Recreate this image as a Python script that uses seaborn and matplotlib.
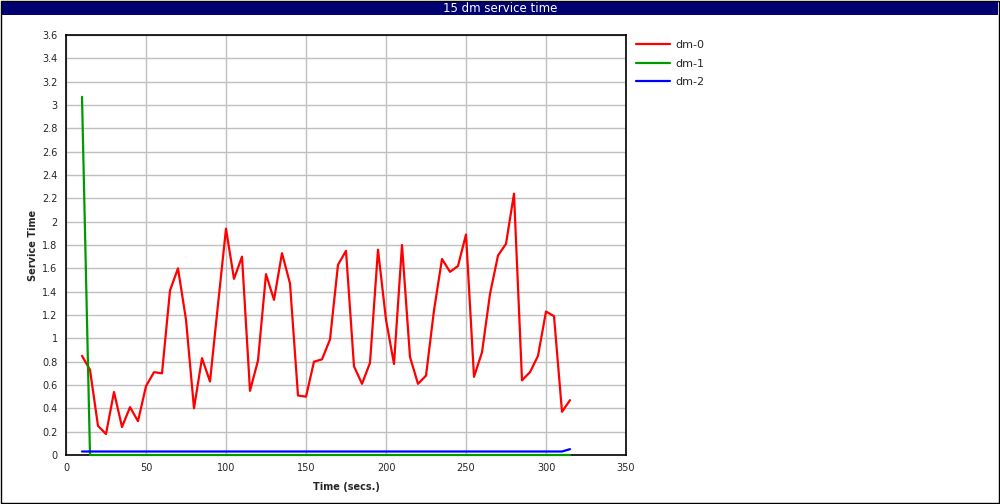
import numpy as np
import pandas as pd
import matplotlib
matplotlib.use("Agg")
import matplotlib.pyplot as plt
from matplotlib.patches import Rectangle
from matplotlib.ticker import FuncFormatter, MultipleLocator
import seaborn as sns

# data
time_secs = [10, 15, 20, 25, 30, 35, 40, 45, 50, 55, 60, 65, 70, 75, 80, 85,
             90, 95, 100, 105, 110, 115, 120, 125, 130, 135, 140, 145, 150,
             155, 160, 165, 170, 175, 180, 185, 190, 195, 200, 205, 210, 215,
             220, 225, 230, 235, 240, 245, 250, 255, 260, 265, 270, 275, 280,
             285, 290, 295, 300, 305, 310, 315]

dm0 = [0.85, 0.73, 0.25, 0.18, 0.54, 0.24, 0.41, 0.29, 0.59, 0.71, 0.70, 1.41,
       1.60, 1.16, 0.40, 0.83, 0.63, 1.29, 1.94, 1.51, 1.70, 0.55, 0.81, 1.55,
       1.33, 1.73, 1.47, 0.51, 0.50, 0.80, 0.82, 0.99, 1.63, 1.75, 0.76, 0.61,
       0.79, 1.76, 1.16, 0.78, 1.80, 0.84, 0.61, 0.68, 1.24, 1.68, 1.57, 1.62,
       1.89, 0.67, 0.88, 1.38, 1.71, 1.81, 2.24, 0.64, 0.71, 0.85, 1.23, 1.19,
       0.37, 0.47]

dm1 = [3.07, 0.0, 0.0, 0.0, 0.0, 0.0, 0.0, 0.0, 0.0, 0.0, 0.0, 0.0, 0.0, 0.0,
       0.0, 0.0, 0.0, 0.0, 0.0, 0.0, 0.0, 0.0, 0.0, 0.0, 0.0, 0.0, 0.0, 0.0,
       0.0, 0.0, 0.0, 0.0, 0.0, 0.0, 0.0, 0.0, 0.0, 0.0, 0.0, 0.0, 0.0, 0.0,
       0.0, 0.0, 0.0, 0.0, 0.0, 0.0, 0.0, 0.0, 0.0, 0.0, 0.0, 0.0, 0.0, 0.0,
       0.0, 0.0, 0.0, 0.0, 0.0, 0.0]

dm2 = [0.03, 0.03, 0.03, 0.03, 0.03, 0.03, 0.03, 0.03, 0.03, 0.03, 0.03, 0.03,
       0.03, 0.03, 0.03, 0.03, 0.03, 0.03, 0.03, 0.03, 0.03, 0.03, 0.03, 0.03,
       0.03, 0.03, 0.03, 0.03, 0.03, 0.03, 0.03, 0.03, 0.03, 0.03, 0.03, 0.03,
       0.03, 0.03, 0.03, 0.03, 0.03, 0.03, 0.03, 0.03, 0.03, 0.03, 0.03, 0.03,
       0.03, 0.03, 0.03, 0.03, 0.03, 0.03, 0.03, 0.03, 0.03, 0.03, 0.03, 0.03,
       0.03, 0.05]

series_names = ["dm-0", "dm-1", "dm-2"]
series_colors = ["#ff0000", "#009900", "#0000ff"]

df = pd.concat([
    pd.DataFrame({"time": time_secs, "value": vals, "series": name})
    for name, vals in zip(series_names, [dm0, dm1, dm2])
])

sns.set_style("white")
plt.rcParams["font.family"] = ["DejaVu Sans"]

fig = plt.figure(figsize=(10, 5.04), dpi=100)
ax = fig.add_axes([0.066, 1 - 455 / 504, 0.56, 420 / 504])

sns.lineplot(data=df, x="time", y="value", hue="series", palette=series_colors,
             hue_order=series_names, linewidth=1.6, ax=ax, legend=True)
# keep the zero-valued line visible on top of the x axis
for ln in ax.lines:
    ln.set_clip_on(False)
    ln.set_zorder(3)

ax.set_xlim(0, 350)
ax.set_ylim(0, 3.6)
ax.xaxis.set_major_locator(MultipleLocator(50))
ax.yaxis.set_major_locator(MultipleLocator(0.2))
ax.yaxis.set_major_formatter(FuncFormatter(lambda v, p: f"{round(v, 1):g}"))
ax.grid(True, color="#c0c0c0", linewidth=1)
ax.set_axisbelow(True)
ax.tick_params(direction="out", length=4, width=1, labelsize=7, color="black", pad=2)
for s in ax.spines.values():
    s.set_color("black")
    s.set_linewidth(1.2)
    s.set_zorder(2.5)

ax.set_xlabel("Time (secs.)", fontsize=7, fontweight="bold", labelpad=6)
ax.set_ylabel("Service Time", fontsize=7, fontweight="bold", labelpad=3)

ax.legend(loc="upper left", bbox_to_anchor=(0.632, 0.929), bbox_transform=fig.transFigure,
          frameon=False, fontsize=8, handlelength=3.0, labelspacing=0.75,
          handletextpad=0.5, borderaxespad=0)

# title bar and frame
fig.patches.append(Rectangle((0.001, 1 - 15 / 504), 0.997, 14 / 504, transform=fig.transFigure,
                             facecolor="#000070", edgecolor="none", zorder=0))
fig.text(0.5, 1 - 8 / 504, "15 dm service time", color="white", ha="center", va="center",
         fontsize=8.5)
fig.patches.append(Rectangle((0.0005, 0.001), 0.998, 0.997, transform=fig.transFigure,
                             facecolor="none", edgecolor="black", linewidth=1.0, zorder=5))

fig.savefig("out.png", dpi=100)
